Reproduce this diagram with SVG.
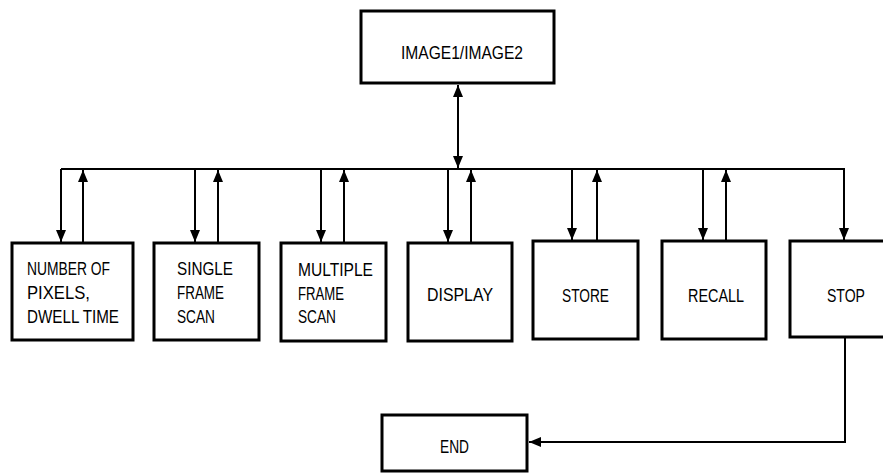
<svg xmlns="http://www.w3.org/2000/svg" width="883" height="473" viewBox="0 0 883 473">
<defs>
<marker id="ah" markerUnits="userSpaceOnUse" markerWidth="12" markerHeight="10" refX="12" refY="5" orient="auto">
<path d="M0,0 L12,5 L0,10 z" fill="#000"/>
</marker>
<style>
.box{fill:#fff;stroke:#000;stroke-width:3}
.ln{fill:none;stroke:#000;stroke-width:2}
.ar{fill:none;stroke:#000;stroke-width:2;marker-end:url(#ah)}
text{font-family:"Liberation Sans",Arial,sans-serif;font-size:18.5px;fill:#000}
</style>
</defs>
<rect width="883" height="473" fill="#fff"/>
<g id="connectors">
<line class="ln" x1="61" y1="169" x2="845" y2="169"/>
<line class="ar" x1="458" y1="120" x2="458" y2="85"/>
<line class="ar" x1="458" y1="120" x2="458" y2="168"/>
<line class="ar" x1="61" y1="169" x2="61" y2="242"/>
<line class="ar" x1="83" y1="242" x2="83" y2="170"/>
<line class="ar" x1="195" y1="169" x2="195" y2="242"/>
<line class="ar" x1="218" y1="242" x2="218" y2="170"/>
<line class="ar" x1="321" y1="169" x2="321" y2="242"/>
<line class="ar" x1="344" y1="242" x2="344" y2="170"/>
<line class="ar" x1="448" y1="169" x2="448" y2="242"/>
<line class="ar" x1="471" y1="242" x2="471" y2="170"/>
<line class="ar" x1="572" y1="169" x2="572" y2="240"/>
<line class="ar" x1="597" y1="240" x2="597" y2="170"/>
<line class="ar" x1="703" y1="169" x2="703" y2="240"/>
<line class="ar" x1="726" y1="240" x2="726" y2="170"/>
<line class="ar" x1="844" y1="168" x2="844" y2="240"/>
<polyline class="ar" points="845,338 845,442 529,442"/>
</g>
<g id="image">
<rect class="box" x="361" y="11" width="193" height="72"/>
<text x="401" y="59" textLength="122" lengthAdjust="spacingAndGlyphs">IMAGE1/IMAGE2</text>
</g>
<g id="pixels">
<rect class="box" x="12" y="243" width="121" height="97"/>
<text x="27" y="275" textLength="83" lengthAdjust="spacingAndGlyphs">NUMBER OF</text>
<text x="27" y="299" textLength="63" lengthAdjust="spacingAndGlyphs">PIXELS,</text>
<text x="27" y="323" textLength="92" lengthAdjust="spacingAndGlyphs">DWELL TIME</text>
</g>
<g id="single">
<rect class="box" x="154" y="243" width="105" height="97"/>
<text x="177" y="275" textLength="56" lengthAdjust="spacingAndGlyphs">SINGLE</text>
<text x="177" y="299" textLength="47" lengthAdjust="spacingAndGlyphs">FRAME</text>
<text x="177" y="323" textLength="38" lengthAdjust="spacingAndGlyphs">SCAN</text>
</g>
<g id="multiple">
<rect class="box" x="281" y="243" width="105" height="98"/>
<text x="298" y="276" textLength="75" lengthAdjust="spacingAndGlyphs">MULTIPLE</text>
<text x="298" y="300" textLength="46" lengthAdjust="spacingAndGlyphs">FRAME</text>
<text x="298" y="323" textLength="38" lengthAdjust="spacingAndGlyphs">SCAN</text>
</g>
<g id="display">
<rect class="box" x="408" y="243" width="104" height="98"/>
<text x="427" y="301" textLength="66" lengthAdjust="spacingAndGlyphs">DISPLAY</text>
</g>
<g id="store">
<rect class="box" x="533" y="241" width="105" height="98"/>
<text x="562" y="302" textLength="47" lengthAdjust="spacingAndGlyphs">STORE</text>
</g>
<g id="recall">
<rect class="box" x="662" y="241" width="104" height="98"/>
<text x="688" y="302" textLength="56" lengthAdjust="spacingAndGlyphs">RECALL</text>
</g>
<g id="stop">
<rect class="box" x="790" y="241" width="110" height="96"/>
<text x="827" y="302" textLength="38" lengthAdjust="spacingAndGlyphs">STOP</text>
</g>
<g id="end">
<rect class="box" x="382" y="415" width="145" height="56"/>
<text x="440" y="453" textLength="29" lengthAdjust="spacingAndGlyphs">END</text>
</g>
</svg>
